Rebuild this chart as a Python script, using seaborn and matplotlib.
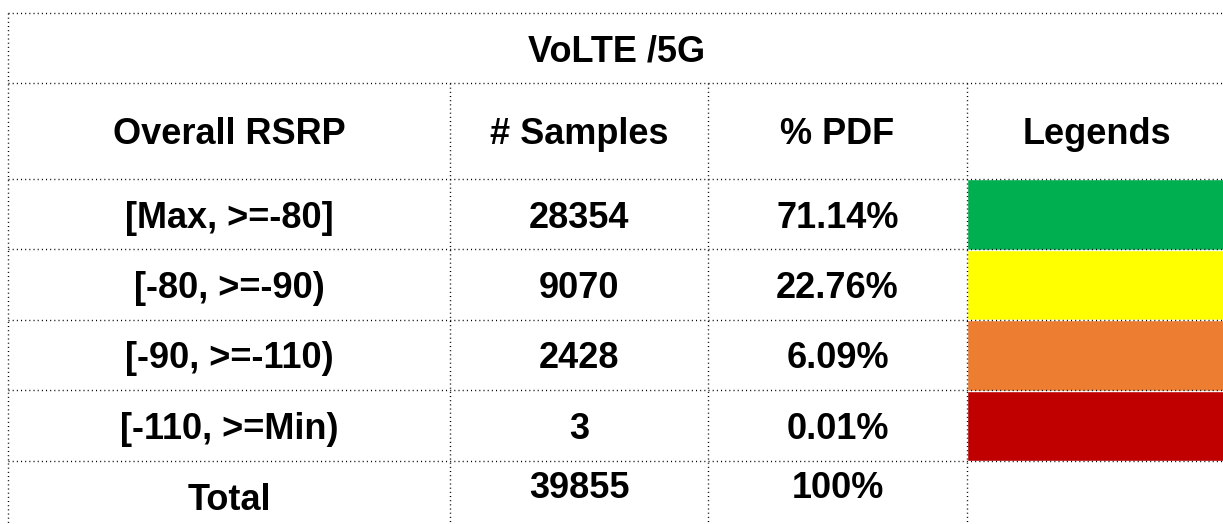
import matplotlib
matplotlib.use("Agg")
import matplotlib.pyplot as plt
import seaborn as sns
import pandas as pd

# table content
title = "VoLTE /5G"
headers = ["Overall RSRP", "# Samples", "% PDF", "Legends"]
ranges = ["[Max, >=-80]", "[-80, >=-90)", "[-90, >=-110)", "[-110, >=Min)"]
samples = [28354, 9070, 2428, 3]
pdf = ["71.14%", "22.76%", "6.09%", "0.01%"]
legend_colors = ["#00B050", "#FFFF00", "#ED7D31", "#C00000"]
total_label = "Total"
total_samples = 39855
total_pdf = "100%"

sns.set_theme(style="white")
plt.rcParams["font.family"] = ["Liberation Sans", "DejaVu Sans"]

W, H = 1223, 524
fig = plt.figure(figsize=(W / 100, H / 100), dpi=100)

# grid layout (pixels)
left, right = 8, 1226
col_edges = [left, 450, 708, 967, right]
row_edges = [13, 83, 179, 249, 320, 390, 461, 540]

""" Цветные ячейки легенды через seaborn """
leg_ax = fig.add_axes([col_edges[3] / W, 1 - row_edges[6] / H,
                       (right - col_edges[3]) / W, (row_edges[6] - row_edges[2]) / H])
leg_df = pd.DataFrame({"range": ranges, "value": [1] * len(ranges)})
sns.barplot(data=leg_df, y="range", x="value", hue="range", palette=legend_colors,
            width=1.0, legend=False, ax=leg_ax, saturation=1)
leg_ax.set_xlim(0, 1)
leg_ax.set_ylim(len(ranges) - 0.5, -0.5)
leg_ax.axis("off")
leg_ax.set_zorder(1)

""" Таблица: линии и текст """
ax = fig.add_axes([0, 0, 1, 1])
ax.set_zorder(2)
ax.patch.set_alpha(0)
ax.set_xlim(0, W)
ax.set_ylim(H, 0)
ax.axis("off")

ls = dict(color="black", lw=1.0, linestyle=(0, (0.75, 2.25)))
for y in row_edges[:-1]:
    ax.plot([left, right], [y, y], **ls)
ax.plot([left, left], [row_edges[0], H], **ls)
for x in col_edges[1:4]:
    ax.plot([x, x], [row_edges[1], H], **ls)

fs = 26
txt = dict(ha="center", va="center", fontsize=fs, fontweight="bold", color="black")
centers = [(col_edges[i] + col_edges[i + 1]) / 2 for i in range(4)]
dy = 4  # сдвиг текста вниз

ax.text((left + right) / 2, 48 + dy, title, **txt)
for c, h in zip(centers, headers):
    ax.text(c, 131 + dy, h, **txt)
for i in range(len(ranges)):
    yc = (row_edges[i + 2] + row_edges[i + 3]) / 2 + dy
    ax.text(centers[0], yc, ranges[i], **txt)
    ax.text(centers[1], yc, str(samples[i]), **txt)
    ax.text(centers[2], yc, pdf[i], **txt)

ax.text(centers[0], 497 + dy, total_label, **txt)
ax.text(centers[1], 484 + dy, str(total_samples), **txt)
ax.text(centers[2], 484 + dy, total_pdf, **txt)

fig.savefig("out.png", dpi=100)
